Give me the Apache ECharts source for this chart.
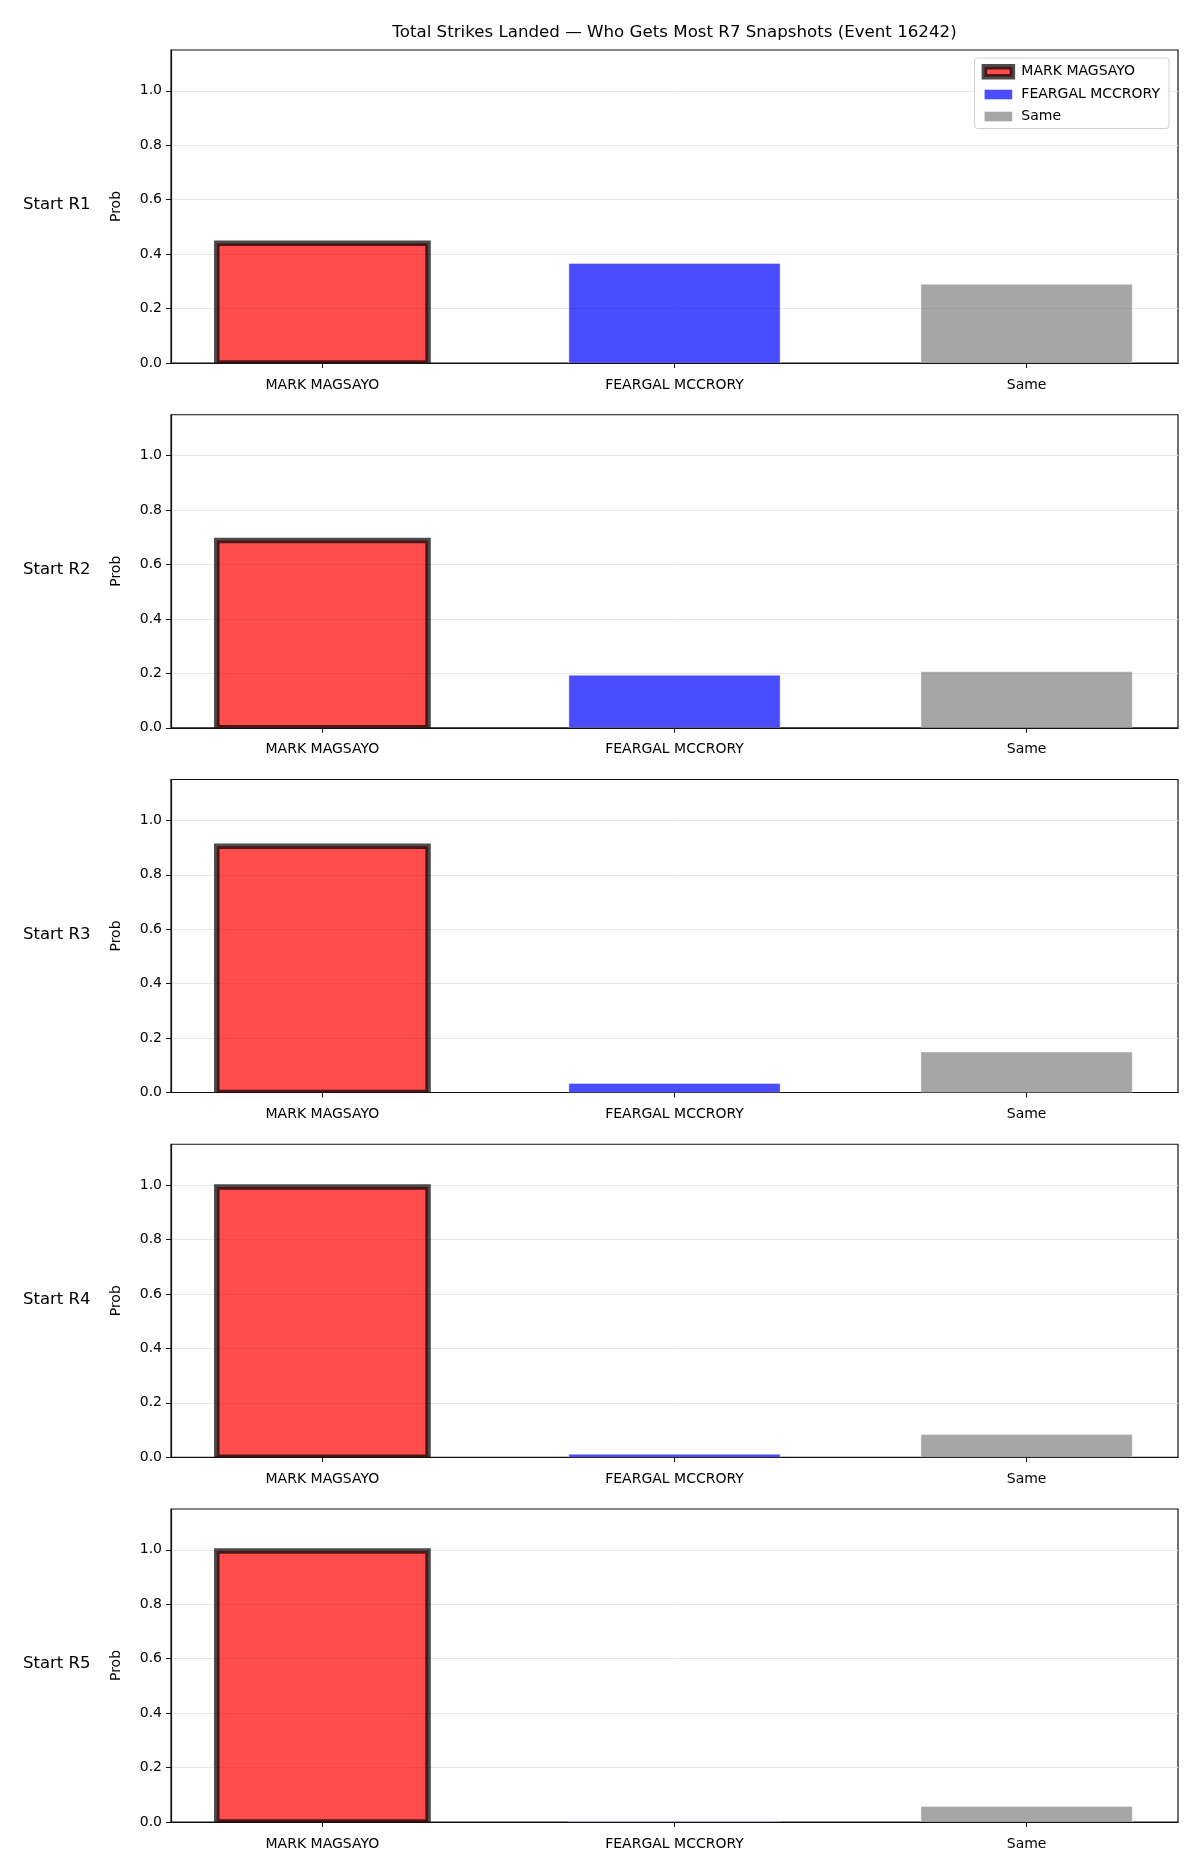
<!DOCTYPE html>
<html>
<head>
<meta charset="utf-8">
<title>Total Strikes Landed</title>
<script src="https://cdn.jsdelivr.net/npm/echarts@6/dist/echarts.min.js"></script>
<style>
  html, body { margin: 0; padding: 0; background: #fff; }
  #chart { width: 1200px; height: 1875px; }
</style>
</head>
<body>
<div id="chart"></div>
<script>
// --- data ---
const categories = ['MARK MAGSAYO', 'FEARGAL MCCRORY', 'Same'];
const rounds = ['Start R1', 'Start R2', 'Start R3', 'Start R4', 'Start R5'];
const magsayo = [0.44, 0.688, 0.905, 0.993, 0.996];
const mccrory = [0.366, 0.193, 0.033, 0.011, 0.002];
const same = [0.289, 0.206, 0.149, 0.084, 0.057];
const yTicks = [0, 0.2, 0.4, 0.6, 0.8, 1.0];
const xTicks = [0, 1, 2];

const FONT = 'DejaVu Sans';
const chart = echarts.init(document.getElementById('chart'));

// layout (px)
const gLeft = 171, gWidth = 1007, gTop0 = 50, gHeight = 313, gStep = 364.75;
const xMin = -0.43, xMax = 2.43;
const BAR_W = 0.6; // bar width in axis units

const styles = [
    { color: 'rgba(255,0,0,0.7)', borderColor: 'rgba(0,0,0,0.7)', borderWidth: 5.5 },
    { color: 'rgba(0,0,255,0.7)', borderColor: 'rgba(255,255,255,0.5)', borderWidth: 0.8 },
    { color: 'rgba(128,128,128,0.7)', borderColor: 'rgba(255,255,255,0.5)', borderWidth: 0.8 }
];
const valuesByCat = [magsayo, mccrory, same];

// bars drawn like matplotlib: edge stroke centred on the bar outline
function barRenderer(st) {
    return function (params, api) {
        const x = api.value(0), v = api.value(1);
        const p0 = api.coord([x - BAR_W / 2, v]);
        const p1 = api.coord([x + BAR_W / 2, 0]);
        return {
            type: 'rect',
            shape: { x: p0[0], y: p0[1], width: p1[0] - p0[0], height: p1[1] - p0[1] },
            style: { fill: st.color, stroke: st.borderColor, lineWidth: st.borderWidth }
        };
    };
}

const grids = [], xAxes = [], yAxes = [], series = [], graphics = [];

rounds.forEach((r, i) => {
    const top = gTop0 + gStep * i;
    grids.push({
        left: gLeft, top: top, width: gWidth, height: gHeight,
        show: true, borderColor: '#111', borderWidth: 1.2, backgroundColor: 'transparent'
    });
    xAxes.push({
        type: 'value', gridIndex: i, min: xMin, max: xMax,
        axisLine: { show: true, onZero: false, lineStyle: { color: '#111', width: 1.2 } },
        axisTick: { show: true, length: 5, customValues: xTicks, lineStyle: { color: '#111' } },
        axisLabel: {
            customValues: xTicks, margin: 15, fontSize: 14, color: '#000', fontFamily: FONT,
            formatter: v => categories[Math.round(v)] || ''
        },
        splitLine: { show: false }
    });
    yAxes.push({
        type: 'value', gridIndex: i, min: 0, max: 1.15, interval: 0.2,
        name: 'Prob', nameLocation: 'middle', nameGap: 48,
        nameTextStyle: { fontSize: 14, color: '#000', fontFamily: FONT },
        axisLine: { show: true, onZero: false, lineStyle: { color: '#111', width: 1.2 } },
        axisTick: { show: true, length: 5, customValues: yTicks, lineStyle: { color: '#111' } },
        axisLabel: {
            customValues: yTicks, margin: 9, fontSize: 14, color: '#000', fontFamily: FONT,
            formatter: v => v.toFixed(1)
        },
        splitLine: { show: true, lineStyle: { color: '#e6e6e6', width: 1 } }
    });
    categories.forEach((c, j) => {
        series.push({
            type: 'custom', name: c, xAxisIndex: i, yAxisIndex: i,
            data: [[j, valuesByCat[j][i]]],
            renderItem: barRenderer(styles[j]),
            itemStyle: styles[j],
            clip: true,
            emphasis: { disabled: true },
            animation: false
        });
    });
    graphics.push({
        type: 'text', left: 23, top: top + gHeight / 2 - 10,
        style: { text: r, fontSize: 16.5, fontFamily: FONT, fill: '#000' }
    });
});

graphics.push({
    type: 'text', x: gLeft + gWidth / 2, y: 33,
    style: {
        text: 'Total Strikes Landed — Who Gets Most R7 Snapshots (Event 16242)',
        fontSize: 16.67, fontFamily: FONT, fill: '#000', align: 'center', verticalAlign: 'middle'
    }
});

chart.setOption({
    animation: false,
    backgroundColor: '#fff',
    textStyle: { fontFamily: FONT },
    grid: grids,
    xAxis: xAxes,
    yAxis: yAxes,
    series: series,
    graphic: graphics,
    legend: {
        orient: 'vertical', right: 31, top: 58,
        icon: 'rect',
        itemWidth: 28, itemHeight: 10, itemGap: 8,
        padding: [6, 9, 5, 7],
        borderColor: '#d0d0d0', borderWidth: 1, borderRadius: 3,
        backgroundColor: 'rgba(255,255,255,0.8)',
        textStyle: { fontSize: 14, color: '#000', fontFamily: FONT, padding: [0, 0, 0, 4] },
        data: categories.map((c, j) => ({ name: c, itemStyle: styles[j] }))
    }
});
</script>
</body>
</html>
